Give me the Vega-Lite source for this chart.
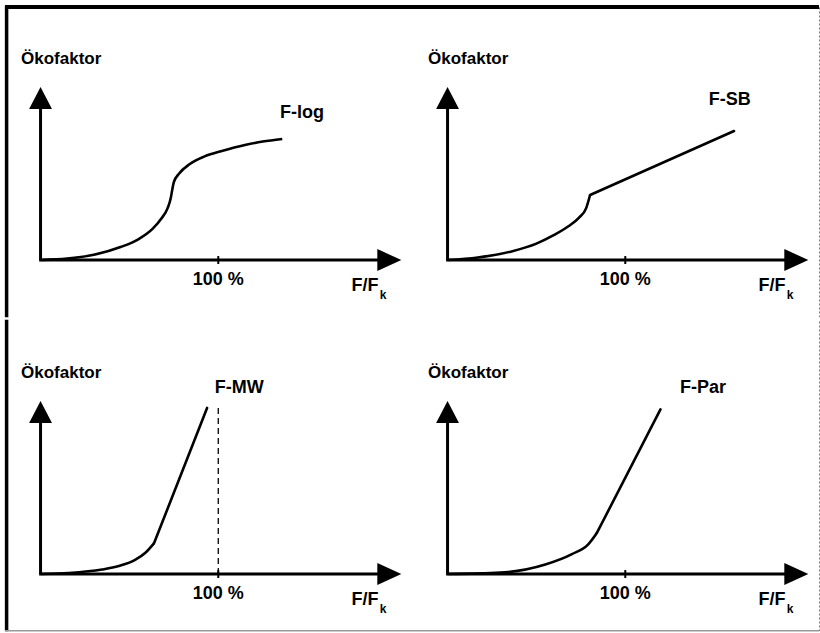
{
  "$schema": "https://vega.github.io/schema/vega-lite/v6.json",
  "padding": {"left": 3, "top": 3, "right": 0, "bottom": 0},
  "background": "white",
  "bounds": "flush",
  "config": {"view": {"stroke": null}, "text": {"font": "Liberation Sans", "fontWeight": "bold", "color": "black"}, "facet": {"spacing": 0}},
  "data": {"values": [
    {"pid": 1, "r": 1, "c": 1, "part": "meta", "name": "F-log", "x": 134.8, "y": 85},
    {"pid": 1, "r": 1, "c": 1, "part": "curve", "x": 0, "y": 0},
    {"pid": 1, "r": 1, "c": 1, "part": "curve", "x": 15, "y": 0.8},
    {"pid": 1, "r": 1, "c": 1, "part": "curve", "x": 30, "y": 3},
    {"pid": 1, "r": 1, "c": 1, "part": "curve", "x": 45, "y": 7.5},
    {"pid": 1, "r": 1, "c": 1, "part": "curve", "x": 55, "y": 12},
    {"pid": 1, "r": 1, "c": 1, "part": "curve", "x": 63, "y": 18},
    {"pid": 1, "r": 1, "c": 1, "part": "curve", "x": 68, "y": 24},
    {"pid": 1, "r": 1, "c": 1, "part": "curve", "x": 71.5, "y": 30},
    {"pid": 1, "r": 1, "c": 1, "part": "curve", "x": 73.3, "y": 36},
    {"pid": 1, "r": 1, "c": 1, "part": "curve", "x": 74, "y": 40},
    {"pid": 1, "r": 1, "c": 1, "part": "curve", "x": 75, "y": 45},
    {"pid": 1, "r": 1, "c": 1, "part": "curve", "x": 78, "y": 50},
    {"pid": 1, "r": 1, "c": 1, "part": "curve", "x": 84, "y": 55.5},
    {"pid": 1, "r": 1, "c": 1, "part": "curve", "x": 92, "y": 59.8},
    {"pid": 1, "r": 1, "c": 1, "part": "curve", "x": 102, "y": 63},
    {"pid": 1, "r": 1, "c": 1, "part": "curve", "x": 115, "y": 66.5},
    {"pid": 1, "r": 1, "c": 1, "part": "curve", "x": 125, "y": 68.5},
    {"pid": 1, "r": 1, "c": 1, "part": "curve", "x": 136, "y": 70},
    {"pid": 2, "r": 1, "c": 2, "part": "meta", "name": "F-SB", "x": 147, "y": 92.5},
    {"pid": 2, "r": 1, "c": 2, "part": "curve", "x": 0, "y": 0},
    {"pid": 2, "r": 1, "c": 2, "part": "curve", "x": 17, "y": 1.5},
    {"pid": 2, "r": 1, "c": 2, "part": "curve", "x": 36, "y": 5},
    {"pid": 2, "r": 1, "c": 2, "part": "curve", "x": 50, "y": 9.5},
    {"pid": 2, "r": 1, "c": 2, "part": "curve", "x": 60, "y": 14.5},
    {"pid": 2, "r": 1, "c": 2, "part": "curve", "x": 68, "y": 19.5},
    {"pid": 2, "r": 1, "c": 2, "part": "curve", "x": 74, "y": 24.5},
    {"pid": 2, "r": 1, "c": 2, "part": "curve", "x": 78, "y": 30},
    {"pid": 2, "r": 1, "c": 2, "part": "curve", "x": 80.2, "y": 37.6},
    {"pid": 2, "r": 1, "c": 2, "part": "line", "x": 80.2, "y": 37.6},
    {"pid": 2, "r": 1, "c": 2, "part": "line", "x": 161.2, "y": 74.6},
    {"pid": 3, "r": 2, "c": 1, "part": "meta", "name": "F-MW", "x": 98, "y": 107.5},
    {"pid": 3, "r": 2, "c": 1, "part": "curve", "x": 0, "y": 0},
    {"pid": 3, "r": 2, "c": 1, "part": "curve", "x": 16, "y": 0.6},
    {"pid": 3, "r": 2, "c": 1, "part": "curve", "x": 34.6, "y": 2.6},
    {"pid": 3, "r": 2, "c": 1, "part": "curve", "x": 44, "y": 4.6},
    {"pid": 3, "r": 2, "c": 1, "part": "curve", "x": 53.2, "y": 8.2},
    {"pid": 3, "r": 2, "c": 1, "part": "curve", "x": 59, "y": 12.3},
    {"pid": 3, "r": 2, "c": 1, "part": "curve", "x": 63.9, "y": 17.9},
    {"pid": 3, "r": 2, "c": 1, "part": "line", "x": 63.9, "y": 17.9},
    {"pid": 3, "r": 2, "c": 1, "part": "line", "x": 93.7, "y": 96},
    {"pid": 4, "r": 2, "c": 2, "part": "meta", "name": "F-Par", "x": 130.8, "y": 107.5},
    {"pid": 4, "r": 2, "c": 2, "part": "curve", "x": 0, "y": 0},
    {"pid": 4, "r": 2, "c": 2, "part": "curve", "x": 29.7, "y": 0.8},
    {"pid": 4, "r": 2, "c": 2, "part": "curve", "x": 55, "y": 5.5},
    {"pid": 4, "r": 2, "c": 2, "part": "curve", "x": 70, "y": 11.5},
    {"pid": 4, "r": 2, "c": 2, "part": "curve", "x": 79, "y": 17},
    {"pid": 4, "r": 2, "c": 2, "part": "curve", "x": 84.1, "y": 23.9},
    {"pid": 4, "r": 2, "c": 2, "part": "line", "x": 84.1, "y": 23.9},
    {"pid": 4, "r": 2, "c": 2, "part": "line", "x": 119.8, "y": 95.2}
  ]},
  "facet": {
    "row": {"field": "r", "type": "ordinal", "title": null, "header": null},
    "column": {"field": "c", "type": "ordinal", "title": null, "header": null}
  },
  "spacing": {"row": 0, "column": 0},
  "spec": {
    "width": 407,
    "height": 314,
    "layer": [
      {
        "transform": [{"filter": "datum.part === 'meta' && (datum.pid === 1 || datum.pid === 2)"}],
        "mark": {"type": "rule", "color": "black", "strokeWidth": 4},
        "encoding": {
          "x": {"datum": -20, "type": "quantitative", "scale": {"domain": [-20, 209], "nice": false, "zero": false}, "axis": null},
          "x2": {"datum": 209},
          "y": {"datum": 146.2, "type": "quantitative", "scale": {"domain": [-33.5, 148], "nice": false, "zero": false}, "axis": null}
        }
      },
      {
        "transform": [{"filter": "datum.part === 'meta' && (datum.pid === 1 || datum.pid === 3)"}],
        "mark": {"type": "rule", "color": "black", "strokeWidth": 3.5},
        "encoding": {
          "x": {"datum": -19.1, "type": "quantitative", "scale": {"domain": [-20, 209], "nice": false, "zero": false}, "axis": null},
          "y": {"datum": 147, "type": "quantitative", "scale": {"domain": [-33.5, 148], "nice": false, "zero": false}, "axis": null},
          "y2": {"datum": -33}
        }
      },
      {
        "transform": [{"filter": "datum.part === 'meta' && (datum.pid === 2 || datum.pid === 4)"}],
        "mark": {"type": "rule", "color": "#777777", "strokeWidth": 1, "strokeDash": [2, 2]},
        "encoding": {
          "x": {"datum": 209.3, "type": "quantitative", "scale": {"domain": [-20, 209], "nice": false, "zero": false}, "axis": null},
          "y": {"datum": 146, "type": "quantitative", "scale": {"domain": [-33.5, 148], "nice": false, "zero": false}, "axis": null},
          "y2": {"datum": -33}
        }
      },
      {
        "transform": [{"filter": "datum.part === 'meta' && (datum.pid === 3 || datum.pid === 4)"}],
        "mark": {"type": "rule", "color": "#999999", "strokeWidth": 1.5},
        "encoding": {
          "x": {"datum": -20, "type": "quantitative", "scale": {"domain": [-20, 209], "nice": false, "zero": false}, "axis": null},
          "x2": {"datum": 209},
          "y": {"datum": -32.8, "type": "quantitative", "scale": {"domain": [-33.5, 148], "nice": false, "zero": false}, "axis": null}
        }
      },
      {
        "transform": [{"filter": "datum.part === 'meta' && datum.pid === 3"}],
        "mark": {"type": "rule", "color": "black", "strokeWidth": 1.3, "strokeDash": [6, 4]},
        "encoding": {
          "x": {"datum": 100, "type": "quantitative", "scale": {"domain": [-20, 209], "nice": false, "zero": false}, "axis": null},
          "y": {"datum": 0, "type": "quantitative", "scale": {"domain": [-33.5, 148], "nice": false, "zero": false}, "axis": null},
          "y2": {"datum": 97}
        }
      },
      {
        "transform": [{"filter": "datum.part === 'meta'"}],
        "mark": {"type": "rule", "color": "black", "strokeWidth": 3},
        "encoding": {
          "x": {"datum": 0, "type": "quantitative", "scale": {"domain": [-20, 209], "nice": false, "zero": false}, "axis": null},
          "y": {"datum": 0, "type": "quantitative", "scale": {"domain": [-33.5, 148], "nice": false, "zero": false}, "axis": null},
          "y2": {"datum": 92}
        }
      },
      {
        "transform": [{"filter": "datum.part === 'meta'"}],
        "mark": {"type": "rule", "color": "black", "strokeWidth": 3},
        "encoding": {
          "x": {"datum": -0.8, "type": "quantitative", "scale": {"domain": [-20, 209], "nice": false, "zero": false}, "axis": null},
          "x2": {"datum": 192},
          "y": {"datum": 0, "type": "quantitative", "scale": {"domain": [-33.5, 148], "nice": false, "zero": false}, "axis": null}
        }
      },
      {
        "transform": [{"filter": "datum.part === 'meta'"}],
        "mark": {"type": "rule", "color": "black", "strokeWidth": 2},
        "encoding": {
          "x": {"datum": 100, "type": "quantitative", "scale": {"domain": [-20, 209], "nice": false, "zero": false}, "axis": null},
          "y": {"datum": -2.3, "type": "quantitative", "scale": {"domain": [-33.5, 148], "nice": false, "zero": false}, "axis": null},
          "y2": {"datum": 2.3}
        }
      },
      {
        "transform": [{"filter": "datum.part === 'meta'"}],
        "mark": {"type": "point", "shape": "M0,0L-0.52,1L0.52,1Z", "size": 1936, "filled": true, "color": "black", "opacity": 1, "strokeWidth": 0},
        "encoding": {
          "x": {"datum": 0, "type": "quantitative", "scale": {"domain": [-20, 209], "nice": false, "zero": false}, "axis": null},
          "y": {"datum": 100, "type": "quantitative", "scale": {"domain": [-33.5, 148], "nice": false, "zero": false}, "axis": null}
        }
      },
      {
        "transform": [{"filter": "datum.part === 'meta'"}],
        "mark": {"type": "point", "shape": "M0,0L-1,-0.46L-1,0.46Z", "size": 2304, "filled": true, "color": "black", "opacity": 1, "strokeWidth": 0},
        "encoding": {
          "x": {"datum": 203, "type": "quantitative", "scale": {"domain": [-20, 209], "nice": false, "zero": false}, "axis": null},
          "y": {"datum": 0, "type": "quantitative", "scale": {"domain": [-33.5, 148], "nice": false, "zero": false}, "axis": null}
        }
      },
      {
        "transform": [{"filter": "datum.part === 'curve'"}],
        "mark": {"type": "line", "color": "black", "strokeWidth": 2.6, "interpolate": "monotone"},
        "encoding": {
          "x": {"field": "x", "type": "quantitative", "scale": {"domain": [-20, 209], "nice": false, "zero": false}, "axis": null},
          "y": {"field": "y", "type": "quantitative", "scale": {"domain": [-33.5, 148], "nice": false, "zero": false}, "axis": null}
        }
      },
      {
        "transform": [{"filter": "datum.part === 'line'"}],
        "mark": {"type": "line", "color": "black", "strokeWidth": 2.6, "interpolate": "linear", "strokeCap": "round"},
        "encoding": {
          "x": {"field": "x", "type": "quantitative", "scale": {"domain": [-20, 209], "nice": false, "zero": false}, "axis": null},
          "y": {"field": "y", "type": "quantitative", "scale": {"domain": [-33.5, 148], "nice": false, "zero": false}, "axis": null}
        }
      },
      {
        "transform": [{"filter": "datum.part === 'meta'"}],
        "mark": {"type": "text", "align": "left", "baseline": "middle", "fontSize": 18},
        "encoding": {
          "x": {"field": "x", "type": "quantitative", "scale": {"domain": [-20, 209], "nice": false, "zero": false}, "axis": null},
          "y": {"field": "y", "type": "quantitative", "scale": {"domain": [-33.5, 148], "nice": false, "zero": false}, "axis": null},
          "text": {"field": "name"}
        }
      },
      {
        "transform": [{"filter": "datum.part === 'meta'"}],
        "mark": {"type": "text", "align": "left", "baseline": "middle", "fontSize": 17},
        "encoding": {
          "x": {"datum": -11, "type": "quantitative", "scale": {"domain": [-20, 209], "nice": false, "zero": false}, "axis": null},
          "y": {"datum": 116, "type": "quantitative", "scale": {"domain": [-33.5, 148], "nice": false, "zero": false}, "axis": null},
          "text": {"value": "Ökofaktor"}
        }
      },
      {
        "transform": [{"filter": "datum.part === 'meta'"}],
        "mark": {"type": "text", "align": "center", "baseline": "middle", "fontSize": 18},
        "encoding": {
          "x": {"datum": 100, "type": "quantitative", "scale": {"domain": [-20, 209], "nice": false, "zero": false}, "axis": null},
          "y": {"datum": -11.6, "type": "quantitative", "scale": {"domain": [-33.5, 148], "nice": false, "zero": false}, "axis": null},
          "text": {"value": "100 %"}
        }
      },
      {
        "transform": [{"filter": "datum.part === 'meta'"}],
        "mark": {"type": "text", "align": "left", "baseline": "alphabetic", "fontSize": 18},
        "encoding": {
          "x": {"datum": 175, "type": "quantitative", "scale": {"domain": [-20, 209], "nice": false, "zero": false}, "axis": null},
          "y": {"datum": -18, "type": "quantitative", "scale": {"domain": [-33.5, 148], "nice": false, "zero": false}, "axis": null},
          "text": {"value": "F/F"}
        }
      },
      {
        "transform": [{"filter": "datum.part === 'meta'"}],
        "mark": {"type": "text", "align": "left", "baseline": "alphabetic", "fontSize": 12},
        "encoding": {
          "x": {"datum": 190.8, "type": "quantitative", "scale": {"domain": [-20, 209], "nice": false, "zero": false}, "axis": null},
          "y": {"datum": -22.5, "type": "quantitative", "scale": {"domain": [-33.5, 148], "nice": false, "zero": false}, "axis": null},
          "text": {"value": "k"}
        }
      }
    ]
  }
}
